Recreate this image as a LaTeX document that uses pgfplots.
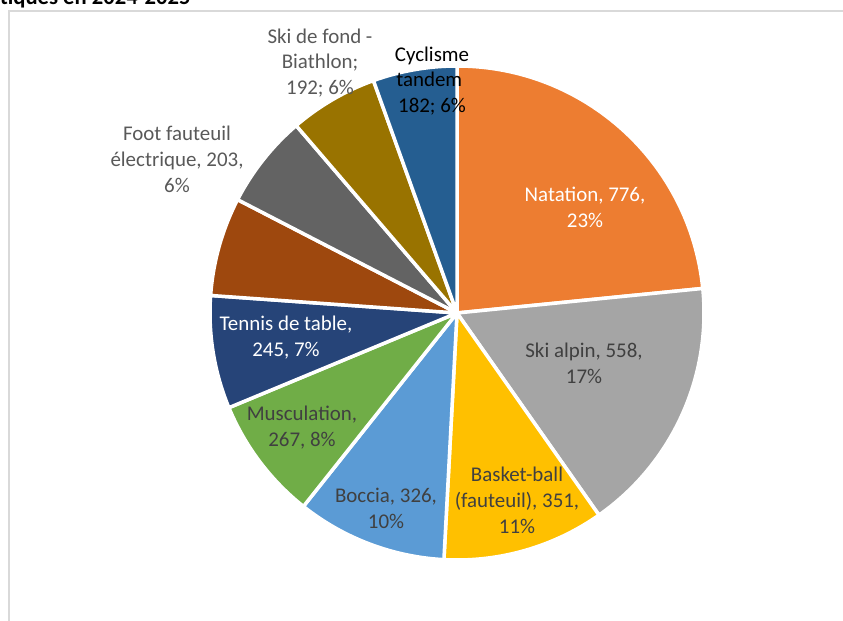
\documentclass[border=0pt]{standalone}
\usepackage{fontspec}
\setmainfont{Carlito}
\usepackage{pgfplots}
\usepackage{pgfplotstable}
\pgfplotsset{compat=1.18}

\definecolor{cNat}{HTML}{ED7D31}
\definecolor{cSki}{HTML}{A5A5A5}
\definecolor{cBas}{HTML}{FFC000}
\definecolor{cBoc}{HTML}{5B9BD5}
\definecolor{cMus}{HTML}{70AD47}
\definecolor{cTen}{HTML}{264478}
\definecolor{cBrn}{HTML}{9E480E}
\definecolor{cFoo}{HTML}{636363}
\definecolor{cFon}{HTML}{997300}
\definecolor{cCyc}{HTML}{255E91}
\definecolor{lbl}{HTML}{404040}
\definecolor{lblout}{HTML}{595959}
\definecolor{frame}{HTML}{D9D9D9}

% licencies par discipline, sens horaire depuis midi
\pgfplotstableread[col sep=comma]{
name,value,color
Natation,776,cNat
Ski alpin,558,cSki
Basket-ball,351,cBas
Boccia,326,cBoc
Musculation,267,cMus
Tennis de table,245,cTen
Autre,214,cBrn
Foot fauteuil,203,cFoo
Ski de fond,192,cFon
Cyclisme tandem,182,cCyc
}\sports

\newcommand{\lab}{\fontsize{21}{26}\selectfont}

\begin{document}
\begin{tikzpicture}
\useasboundingbox (0,0) rectangle (843bp,621bp);
\clip (0,0) rectangle (843bp,621bp);
\begin{axis}[
    at={(0,0)}, anchor=south west,
    scale only axis, width=843bp, height=621bp,
    xmin=0, xmax=843, ymin=0, ymax=621,
    hide axis, clip=false,
]
% cadre
\draw[frame, line width=1.2bp] (axis cs:9,-10) -- (axis cs:9,610) -- (axis cs:860,610);
% titre coupe
\node[anchor=base west, font=\fontsize{22.7}{26}\selectfont\bfseries, inner sep=0pt]
    at (axis cs:0,616) {tiques en 2024-2025};

% total
\def\total{0}
\pgfplotsforeachungrouped \i in {0,...,9}{
    \pgfplotstablegetelem{\i}{value}\of\sports
    \pgfmathsetmacro{\total}{\total+\pgfplotsretval}
}
\def\cum{0}
\pgfplotsforeachungrouped \i in {0,...,9}{
    \pgfplotstablegetelem{\i}{value}\of\sports
    \let\v\pgfplotsretval
    \pgfplotstablegetelem{\i}{color}\of\sports
    \let\c\pgfplotsretval
    \pgfmathsetmacro{\a}{90-360*(\cum/\total)}
    \pgfmathsetmacro{\b}{90-360*((\cum+\v)/\total)}
    \edef\temp{\noexpand\fill[\c, draw=white, line width=3.5bp, line join=round]
        (axis cs:457,308) -- ++(\a:247bp)
        arc[start angle=\a, end angle=\b, radius=247bp] -- cycle;}
    \temp
    \pgfmathsetmacro{\cum}{\cum+\v}
}

% etiquettes
\node[white, align=center, font=\lab] at (axis cs:585,414) {Natation, 776,\\23\%};
\node[lbl, align=center, font=\lab] at (axis cs:584,258) {Ski alpin, 558,\\17\%};
\node[lbl, align=center, font=\lab] at (axis cs:517,121) {Basket-ball\\(fauteuil), 351,\\11\%};
\node[lbl, align=center, font=\lab] at (axis cs:386,113) {Boccia, 326,\\10\%};
\node[lbl, align=center, font=\lab] at (axis cs:302,193) {Musculation,\\267, 8\%};
\node[white, align=center, font=\lab] at (axis cs:286,283) {Tennis de table,\\245, 7\%};
\node[lblout, align=center, font=\lab] at (axis cs:177,462) {Foot fauteuil\\électrique, 203,\\6\%};
\node[lblout, align=center, font=\lab] at (axis cs:320,558) {Ski de fond -\\Biathlon;\\192; 6\%};
\node[black, align=center, font=\lab] at (axis cs:432,540) {Cyclisme\\tandem\textcolor{cNat}{;}\\182; 6\%};
\end{axis}
\end{tikzpicture}
\end{document}
